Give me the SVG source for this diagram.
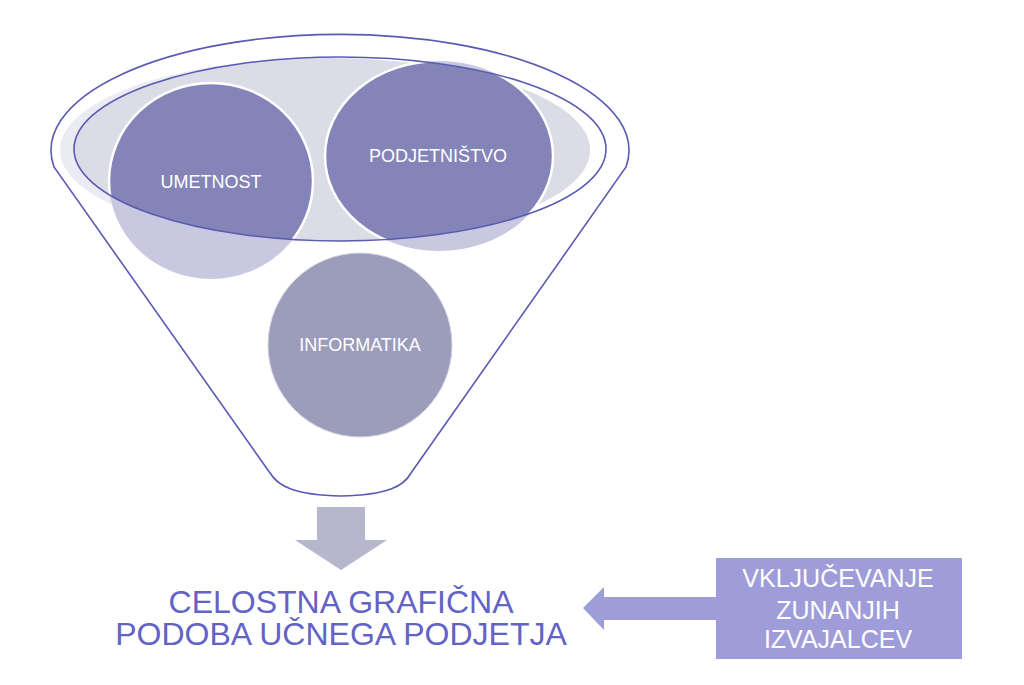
<svg xmlns="http://www.w3.org/2000/svg" width="1024" height="685" viewBox="0 0 1024 685">
  <style>
    .rim { fill: none; stroke: #5a5ab4; stroke-width: 1.6; }
    .lbl { font-family: "Liberation Sans", Arial, sans-serif; font-size: 18px; fill: #ffffff; text-anchor: middle; }
    .main { font-family: "Liberation Sans", Arial, sans-serif; font-size: 32px; fill: #6363c6; text-anchor: middle; }
    .box { font-family: "Liberation Sans", Arial, sans-serif; font-size: 25px; fill: #ffffff; text-anchor: middle; }
  </style>
  <defs>
    <clipPath id="lens">
      <ellipse cx="340" cy="149" rx="266" ry="92"/>
    </clipPath>
  </defs>
  <rect width="1024" height="685" fill="#ffffff"/>

  <g id="funnel">
    <path class="rim" d="M 54,167 A 289 116 0 1 1 626,167 L 411,473 C 404,486 388,495 341,496 C 294,495 278,486 270,473 Z"/>
  </g>

  <g id="background-ellipse">
    <ellipse cx="325" cy="150" rx="265" ry="92" fill="#ebebf3"/>
    <ellipse cx="325" cy="150" rx="265" ry="92" fill="#dcdce7" clip-path="url(#lens)"/>
  </g>

  <g id="umetnost">
    <ellipse cx="211" cy="181" rx="102" ry="98" fill="#c8c8e0"/>
    <ellipse cx="211" cy="181" rx="102" ry="98" fill="#8484b8" stroke="#ffffff" stroke-width="2.5" clip-path="url(#lens)"/>
    <text class="lbl" x="211" y="188">UMETNOST</text>
  </g>

  <g id="podjetnistvo">
    <ellipse cx="439" cy="156" rx="114" ry="95" fill="#c8c8e0"/>
    <ellipse cx="439" cy="156" rx="114" ry="95" fill="#8484b8" stroke="#ffffff" stroke-width="2.5" clip-path="url(#lens)"/>
    <text class="lbl" x="438" y="162">PODJETNIŠTVO</text>
  </g>

  <g id="lens-outline">
    <ellipse class="rim" cx="340" cy="149" rx="266" ry="92"/>
  </g>

  <g id="informatika">
    <circle cx="360" cy="345" r="92" fill="#9c9cbb" stroke="#d4d4e4" stroke-width="1"/>
    <text class="lbl" x="360" y="351">INFORMATIKA</text>
  </g>

  <g id="result">
    <text class="main" x="341" y="613">CELOSTNA GRAFIČNA</text>
    <text class="main" x="341" y="645">PODOBA UČNEGA PODJETJA</text>
  </g>

  <g id="external">
    <rect x="716" y="558" width="246" height="101" fill="#9f9dd9"/>
    <text class="box" x="838" y="587">VKLJUČEVANJE</text>
    <text class="box" x="838" y="619">ZUNANJIH</text>
    <text class="box" x="838" y="648">IZVAJALCEV</text>
  </g>

  <g id="connectors">
    <path d="M 317,507 L 365,507 L 365,540 L 387,540 L 341,570 L 295,540 L 317,540 Z" fill="#b6b6cc"/>
    <path d="M 716,597 L 604,597 L 604,587 L 583,608 L 604,630 L 604,620 L 716,620 Z" fill="#9f9dd9"/>
  </g>
</svg>
